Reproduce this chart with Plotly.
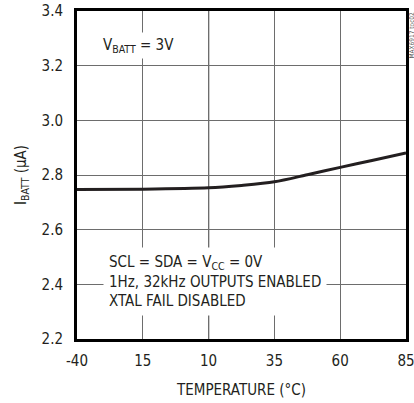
import plotly.graph_objects as go

temperature = [-40, -15, 10, 22.5, 35, 47.5, 60, 72.5, 85]
i_batt = [2.747, 2.748, 2.753, 2.762, 2.775, 2.801, 2.828, 2.854, 2.881]

x_tickvals = [-40, -15, 10, 35, 60, 85]
x_ticktext = ["-40", "15", "10", "35", "60", "85"]
y_tickvals = [2.2, 2.4, 2.6, 2.8, 3.0, 3.2, 3.4]
y_ticktext = ["2.2", "2.4", "2.6", "2.8", "3.0", "3.2", "3.4"]

FONT = "DejaVu Sans Condensed, Liberation Sans Narrow, Arial Narrow, sans-serif"
FS = 15

fig = go.Figure()
fig.add_trace(go.Scatter(
    x=temperature, y=i_batt, mode="lines",
    line=dict(color="#231f20", width=3, shape="spline", smoothing=0.8),
    showlegend=False, hoverinfo="skip"))

fig.add_shape(type="line", xref="x", yref="paper", x0=10, x1=10, y0=0, y1=1,
              line=dict(color="#000000", width=1.2), layer="below")

fig.update_layout(
    width=414, height=403,
    margin=dict(l=77, r=8, t=11, b=64),
    paper_bgcolor="white", plot_bgcolor="white",
    font=dict(family=FONT, size=FS, color="#231f20"),
    xaxis=dict(range=[-40, 85], tickvals=x_tickvals, ticktext=x_ticktext,
               showgrid=True, gridcolor="#6d6d6d", gridwidth=1,
               showline=True, linecolor="black", linewidth=3, mirror=True,
               ticks="", zeroline=False, tickfont=dict(size=FS), ticklabelstandoff=6,
               automargin=False, ticklabeloverflow="allow",
               title=dict(text="TEMPERATURE (°C)", font=dict(size=FS), standoff=16)),
    yaxis=dict(range=[2.2, 3.4], tickvals=y_tickvals, ticktext=y_ticktext,
               showgrid=True, gridcolor="#6d6d6d", gridwidth=1,
               showline=True, linecolor="black", linewidth=3, mirror=True,
               ticks="", zeroline=False, tickfont=dict(size=FS), ticklabelstandoff=8,
               automargin=False, ticklabeloverflow="allow",
               title=dict(text="I<sub>BATT</sub> (µA)", font=dict(size=FS), standoff=12)),
)

fig.add_annotation(xref="paper", yref="paper", x=0.066, y=0.896, xanchor="left", yanchor="middle",
                   text="V<sub>BATT</sub> = 3V", showarrow=False, bgcolor="white",
                   font=dict(size=FS), borderpad=3)
fig.add_annotation(xref="paper", yref="paper", x=0.078, y=0.07, xanchor="left", yanchor="bottom",
                   text="SCL = SDA = V<sub>CC</sub> = 0V<br>1Hz, 32kHz OUTPUTS ENABLED<br>XTAL FAIL DISABLED",
                   align="left", showarrow=False, bgcolor="white", borderpad=5,
                   font=dict(size=FS))
fig.add_annotation(xref="paper", yref="paper", x=1.0, y=1.0, xanchor="left", yanchor="top",
                   text="MAX6917 toc02", textangle=-90, showarrow=False, borderpad=0,
                   font=dict(size=6.5, color="#555555"))

# remove the page's default 8px body margin so the figure fills the window exactly
fig.write_html("out.html", config={"displayModeBar": False},
               post_script="document.body.style.margin='0px';document.body.style.overflow='hidden';")
